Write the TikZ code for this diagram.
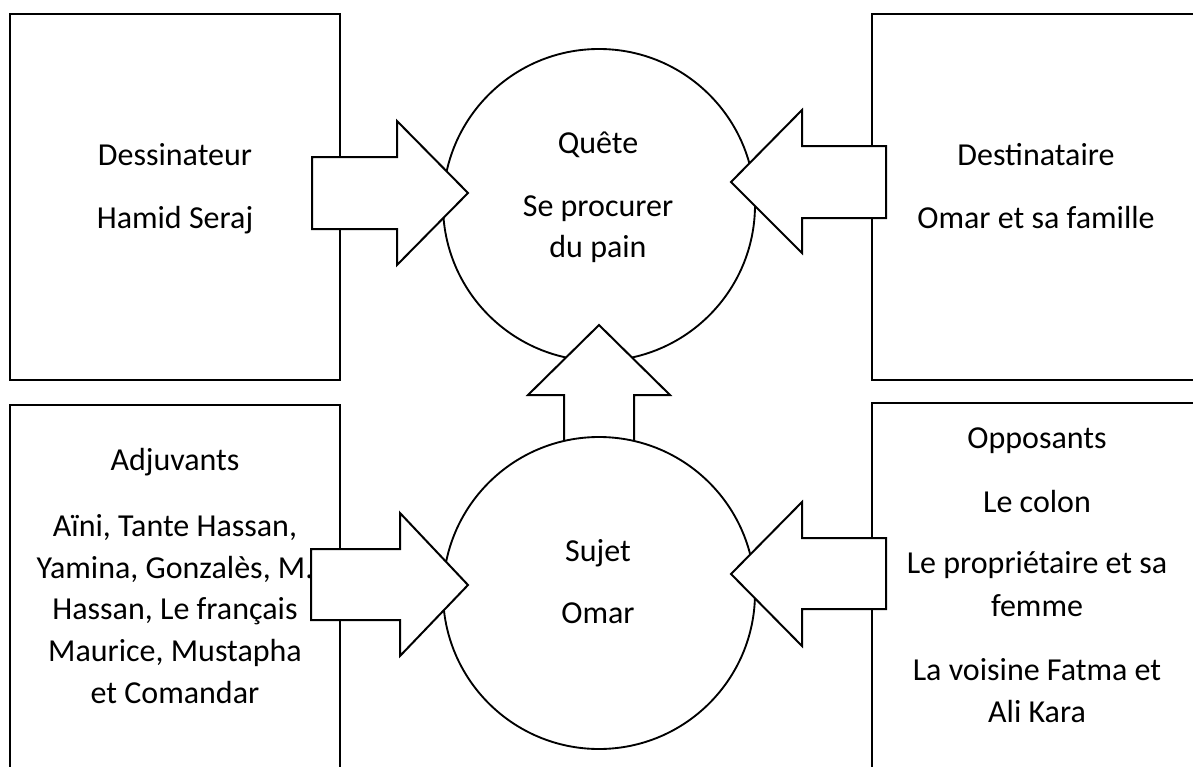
\documentclass[tikz,border=0pt]{standalone}
\usepackage{fontspec}
\setmainfont{Carlito}
\begin{document}
\begin{tikzpicture}[x=0.75pt,y=-0.75pt,
  line width=1.5pt,
  box/.style={draw=black,line width=1.5pt,rectangle,inner sep=0pt,fill=white},
  ring/.style={draw=black,line width=1.4pt,circle,inner sep=0pt,minimum size=312*0.75pt,fill=white},
  blockarrow/.style={draw=black,fill=white,line width=1.5pt,line join=miter},
  txt/.style={font=\fontsize{24}{31.5}\selectfont,anchor=base,inner sep=0pt}]
\useasboundingbox (0,0) rectangle (1193,767);
\clip (0,0) rectangle (1193,767);
% boxes
\node[box,minimum width=330*0.75pt,minimum height=366*0.75pt] (dessin) at (175,197) {};
\node[box,minimum width=330*0.75pt,minimum height=380*0.75pt] (adjuv) at (175,595) {};
\node[box,minimum width=340*0.75pt,minimum height=366*0.75pt] (destin) at (1042,197) {};
\node[box,minimum width=340*0.75pt,minimum height=380*0.75pt] (oppos) at (1042,593) {};
% texts in boxes
\node[txt] (t1) at (175,166) {Dessinateur};
\node[txt] (t2) at (175,228) {Hamid Seraj};
\node[txt] (t3) at (1036,166) {Destinataire};
\node[txt] (t4) at (1036,228) {Omar et sa famille};
\node[txt] (a1) at (175,470) {Adjuvants};
\node[txt] (a2) at (175,536) {Aïni, Tante Hassan,};
\node[txt] (a3) at (175,578) {Yamina, Gonzalès, M.};
\node[txt] (a4) at (175,619) {Hassan, Le français};
\node[txt] (a5) at (175,661) {Maurice, Mustapha};
\node[txt] (a6) at (175,703) {et Comandar};
\node[txt] (o1) at (1037,448) {Opposants};
\node[txt] (o2) at (1037,512) {Le colon};
\node[txt] (o3) at (1037,573) {Le propriétaire et sa};
\node[txt] (o4) at (1037,616) {femme};
\node[txt] (o5) at (1037,680) {La voisine Fatma et};
\node[txt] (o6) at (1037,722) {Ali Kara};
% top circle
\node[ring] (quete) at (599,205) {};
\node[txt] (q1) at (598,153) {Quête};
\node[txt] (q2) at (598,216) {Se procurer};
\node[txt] (q3) at (598,257) {du pain};
% up arrow
\draw[blockarrow] (564,441) -- (564,395) -- (528,395) -- (599,325) -- (670,395) -- (634,395) -- (634,441) -- cycle;
% bottom circle
\node[ring] (sujet) at (599,593) {};
\node[txt] (s1) at (598,561) {Sujet};
\node[txt] (s2) at (598,623) {Omar};
% side arrows
\draw[blockarrow] (312,157) -- (397,157) -- (397,121) -- (468,193) -- (397,265) -- (397,229) -- (312,229) -- cycle;
\draw[blockarrow] (886,146) -- (802,146) -- (802,110) -- (731,182) -- (802,253) -- (802,218) -- (886,218) -- cycle;
\draw[blockarrow] (311,549) -- (400,549) -- (400,513) -- (468,585) -- (400,656) -- (400,620) -- (311,620) -- cycle;
\draw[blockarrow] (886,538) -- (802,538) -- (802,502) -- (731,574) -- (802,646) -- (802,609) -- (886,609) -- cycle;
\end{tikzpicture}
\end{document}
